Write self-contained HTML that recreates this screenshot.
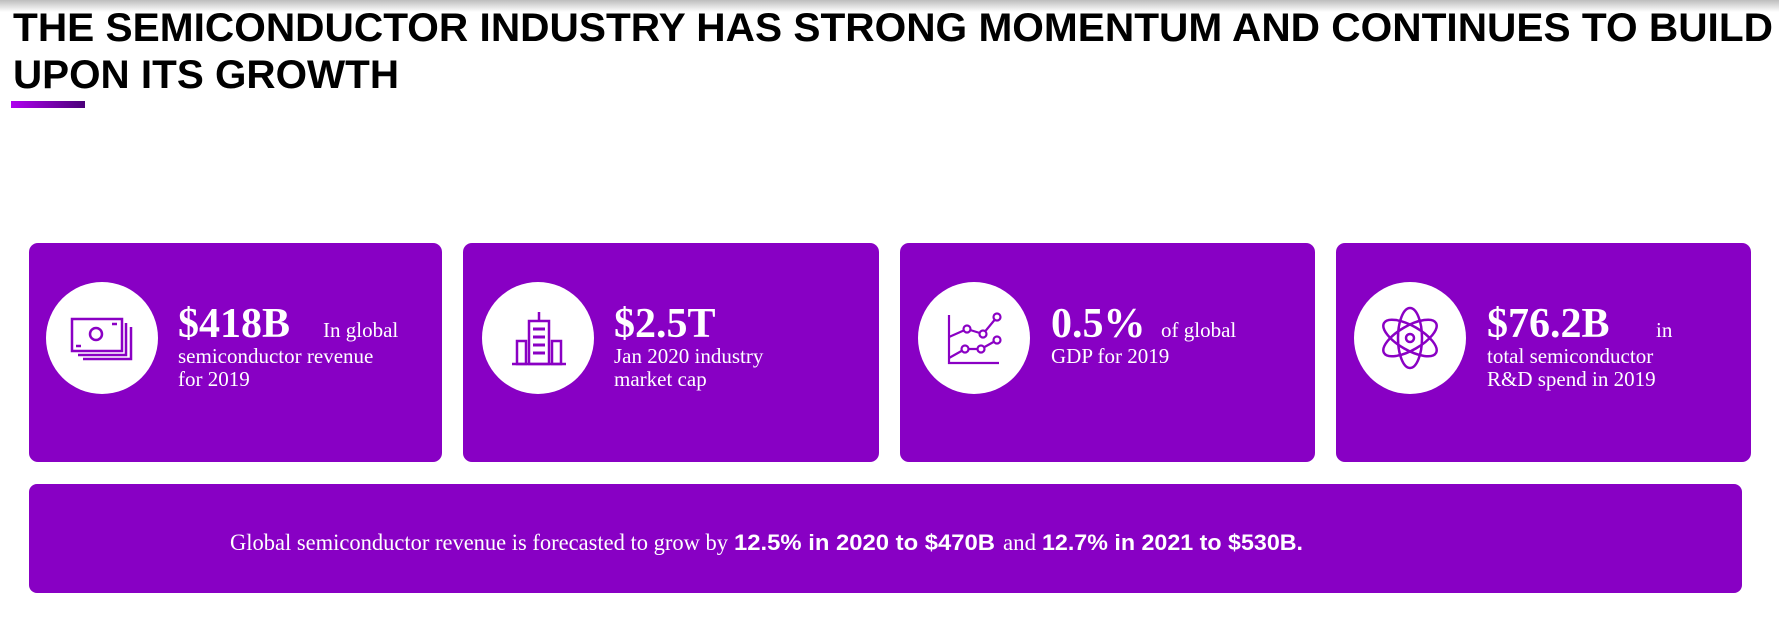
<!DOCTYPE html>
<html><head><meta charset="utf-8"><style>
html,body{margin:0;padding:0;background:#fff;}
svg{display:block;}
.serif{font-family:"Liberation Serif",serif;fill:#fff;}
.sans{font-family:"Liberation Sans",sans-serif;}
</style></head><body>
<svg width="1779" height="623" viewBox="0 0 1779 623">
<defs>
<linearGradient id="shadow" x1="0" y1="0" x2="0" y2="1"><stop offset="0" stop-color="#bdbdbd"/><stop offset="1" stop-color="#fff"/></linearGradient>
<linearGradient id="accent" x1="0" y1="0" x2="1" y2="0"><stop offset="0" stop-color="#b000f0"/><stop offset="1" stop-color="#4a0078"/></linearGradient>
</defs>
<rect x="0" y="0" width="1779" height="12" fill="url(#shadow)"/>
<text class="sans" x="13" y="41" font-size="40" font-weight="bold" fill="#000" textLength="1760" lengthAdjust="spacingAndGlyphs">THE SEMICONDUCTOR INDUSTRY HAS STRONG MOMENTUM AND CONTINUES TO BUILD</text>
<text class="sans" x="13" y="88" font-size="40" font-weight="bold" fill="#000" textLength="386" lengthAdjust="spacingAndGlyphs">UPON ITS GROWTH</text>
<rect x="11" y="101" width="74" height="7" fill="url(#accent)"/>

<g>
<rect x="29" y="243" width="413" height="219" rx="9" fill="#8800c4"/>
<circle cx="102" cy="338" r="56" fill="#fff"/>
<g fill="none" stroke="#8a00c4" stroke-width="2.5">
<rect x="72" y="319" width="50" height="32"/><circle cx="96" cy="334" r="6"/>
<path d="M126 323 V355 H78 M131 327 V359 H83"/><path d="M76 346 h5 M112 324 h5"/>
</g>
<text class="serif" x="178" y="337" font-size="42" font-weight="bold">$418B</text>
<text class="serif" x="323" y="337" font-size="21">In global</text>
<text class="serif" x="178" y="363" font-size="21">semiconductor revenue</text>
<text class="serif" x="178" y="386" font-size="21">for 2019</text>
</g>

<g>
<rect x="463" y="243" width="416" height="219" rx="9" fill="#8800c4"/>
<circle cx="538" cy="338" r="56" fill="#fff"/>
<g fill="none" stroke="#8a00c4" stroke-width="2.5">
<rect x="529" y="321" width="20" height="43"/><rect x="517" y="341" width="9" height="23"/><rect x="552" y="341" width="9" height="23"/>
<path d="M512 364 H566 M539 321 V312"/><path d="M533 329 h12 M533 337 h12 M533 345 h12 M533 353 h12" stroke-width="3"/>
</g>
<text class="serif" x="614" y="337" font-size="42" font-weight="bold">$2.5T</text>
<text class="serif" x="614" y="363" font-size="21">Jan 2020 industry</text>
<text class="serif" x="614" y="386" font-size="21">market cap</text>
</g>

<g>
<rect x="900" y="243" width="415" height="219" rx="9" fill="#8800c4"/>
<circle cx="974" cy="338" r="56" fill="#fff"/>
<g fill="none" stroke="#8a00c4" stroke-width="2.2">
<path d="M949 315 V363 H999"/>
<path d="M949 337 L967 329 L983 334 L997 317"/><path d="M949 358 L965 349 L981 349 L997 340"/>
<g fill="#fff"><circle cx="967" cy="329" r="3.5"/><circle cx="983" cy="334" r="3.5"/><circle cx="997" cy="317" r="3.5"/><circle cx="965" cy="349" r="3.5"/><circle cx="981" cy="349" r="3.5"/><circle cx="997" cy="340" r="3.5"/></g>
</g>
<text class="serif" x="1051" y="337" font-size="42" font-weight="bold">0.5%</text>
<text class="serif" x="1161" y="337" font-size="21">of global</text>
<text class="serif" x="1051" y="363" font-size="21">GDP for 2019</text>
</g>

<g>
<rect x="1336" y="243" width="415" height="219" rx="9" fill="#8800c4"/>
<circle cx="1410" cy="338" r="56" fill="#fff"/>
<g fill="none" stroke="#8a00c4" stroke-width="2.5">
<ellipse cx="1410" cy="338" rx="12" ry="30"/>
<ellipse cx="1410" cy="338" rx="12" ry="30" transform="rotate(60 1410 338)"/>
<ellipse cx="1410" cy="338" rx="12" ry="30" transform="rotate(-60 1410 338)"/>
<circle cx="1410" cy="338" r="4"/>
</g>
<text class="serif" x="1487" y="337" font-size="42" font-weight="bold">$76.2B</text>
<text class="serif" x="1656" y="337" font-size="21">in</text>
<text class="serif" x="1487" y="363" font-size="21">total semiconductor</text>
<text class="serif" x="1487" y="386" font-size="21">R&amp;D spend in 2019</text>
</g>

<g>
<rect x="29" y="484" width="1713" height="109" rx="8" fill="#8800c4"/>
<text class="serif" x="230" y="550" font-size="23" textLength="498" lengthAdjust="spacingAndGlyphs">Global semiconductor revenue is forecasted to grow by</text>
<text class="sans" x="734" y="550" font-size="22" font-weight="bold" fill="#fff" textLength="261" lengthAdjust="spacingAndGlyphs">12.5% in 2020 to $470B</text>
<text class="serif" x="1003" y="550" font-size="23" textLength="33" lengthAdjust="spacingAndGlyphs">and</text>
<text class="sans" x="1042" y="550" font-size="22" font-weight="bold" fill="#fff" textLength="261" lengthAdjust="spacingAndGlyphs">12.7% in 2021 to $530B.</text>
</g>
</svg>
</body></html>
